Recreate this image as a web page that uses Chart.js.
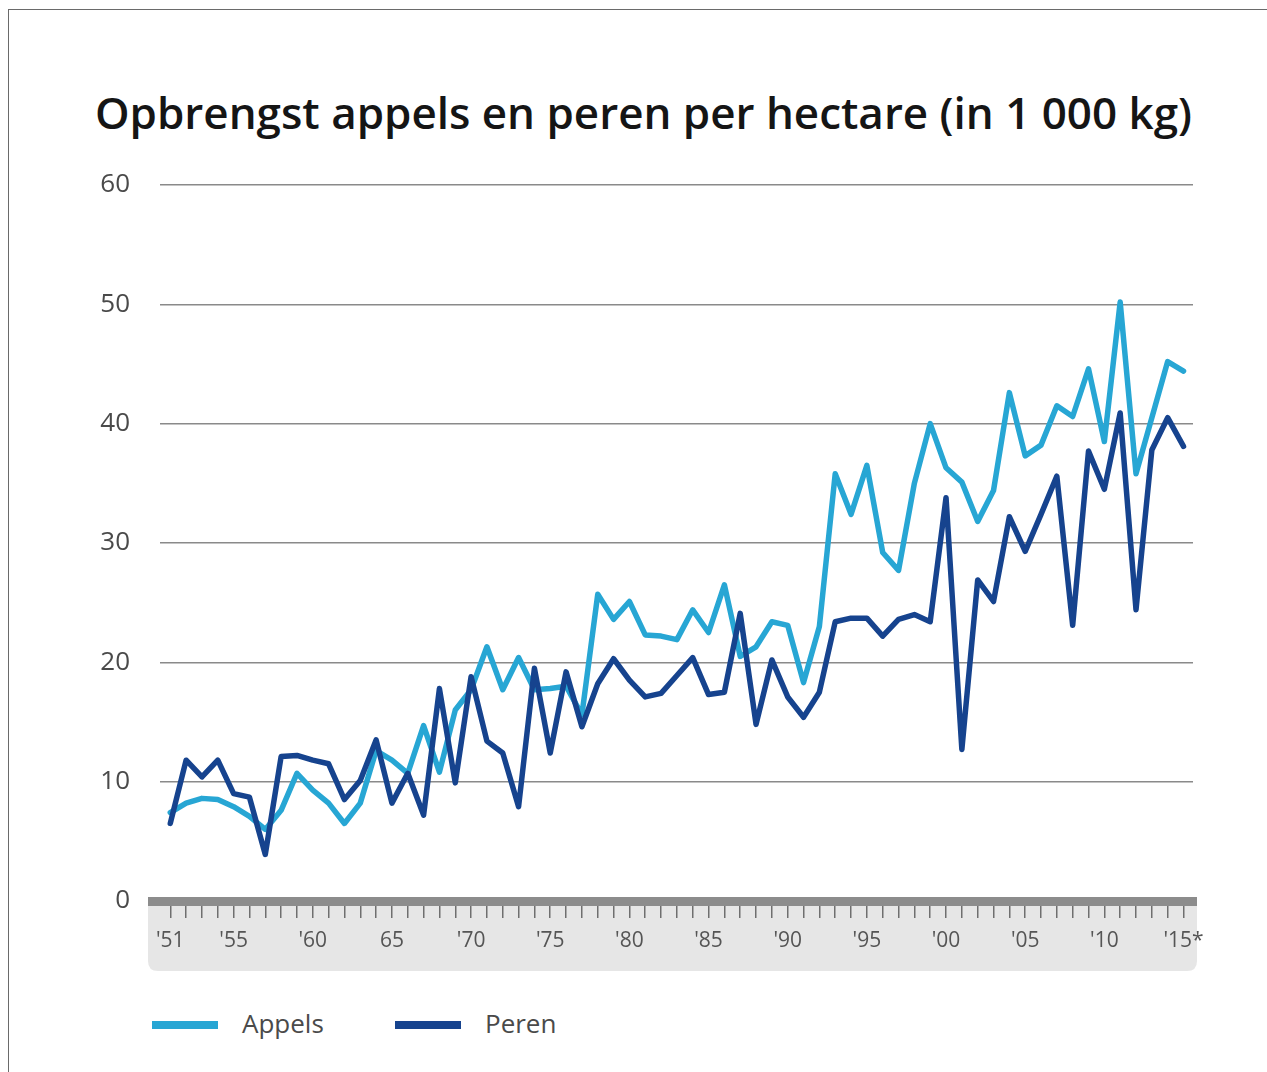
<!DOCTYPE html>
<html>
<head>
<meta charset="utf-8">
<script src="https://cdn.jsdelivr.net/npm/chart.js@4.4.1/dist/chart.umd.min.js"></script>
<style>
    body { margin: 0; background: #fff; }
    #page { position: relative; width: 1267px; height: 1072px; overflow: hidden; background: #fff; }
    #frame { position: absolute; left: 8px; top: 9px; width: 1300px; height: 1100px; border-top: 1px solid #6a6a6a; border-left: 1px solid #6a6a6a; }
    #title { position: absolute; left: 95px; top: 84px; font-family: "Open Sans", sans-serif; font-weight: 600; font-size: 44px; color: #151515; white-space: nowrap; transform-origin: left top; line-height: 56px; }
    #chartBox { position: absolute; left: 0; top: 0; width: 1267px; height: 990px; }
    .legItem { position: absolute; top: 1007px; height: 36px; font-family: "Open Sans", sans-serif; font-size: 26px; color: #4a4a4a; }
    .legItem span.sw { position: absolute; left: 0; top: 14px; width: 66px; height: 8px; }
    .legItem span.tx { position: absolute; top: -2px; white-space: nowrap; }
</style>
</head>
<body>
<div id="page">
    <div id="frame"></div>
    <div id="title">Opbrengst appels en peren per hectare (in 1 000 kg)</div>
    <div id="chartBox"><canvas id="yieldChart"></canvas></div>
    <div id="legend"></div>
</div>
<script>
// jaren 1951 - 2015
const years = [];
for (let y = 1951; y <= 2015; y++) years.push(y);

const appels = [7.4, 8.2, 8.6, 8.5, 7.9, 7.1, 6.0, 7.6, 10.7, 9.3,
    8.2, 6.5, 8.2, 12.6, 11.8, 10.7, 14.7, 10.8, 16.0, 17.7,
    21.3, 17.7, 20.4, 17.7, 17.8, 18.0, 15.6, 25.7, 23.6, 25.1,
    22.3, 22.2, 21.9, 24.4, 22.5, 26.5, 20.5, 21.3, 23.4, 23.1,
    18.3, 23.0, 35.8, 32.4, 36.5, 29.2, 27.7, 35.0, 40.0, 36.3,
    35.1, 31.8, 34.4, 42.6, 37.3, 38.2, 41.5, 40.6, 44.6, 38.5,
    50.2, 35.8, 40.5, 45.2, 44.4];

const peren = [6.5, 11.8, 10.4, 11.8, 9.0, 8.7, 3.9, 12.1, 12.2, 11.8,
    11.5, 8.5, 10.1, 13.5, 8.2, 10.7, 7.2, 17.8, 9.9, 18.8,
    13.4, 12.4, 7.9, 19.5, 12.4, 19.2, 14.6, 18.2, 20.3, 18.5,
    17.1, 17.4, 18.9, 20.4, 17.3, 17.5, 24.1, 14.8, 20.2, 17.1,
    15.4, 17.5, 23.4, 23.7, 23.7, 22.2, 23.6, 24.0, 23.4, 33.8,
    12.7, 26.9, 25.1, 32.2, 29.3, 32.4, 35.6, 23.1, 37.7, 34.5,
    40.9, 24.4, 37.8, 40.5, 38.1];

const labelYears = [1951, 1955, 1960, 1965, 1970, 1975, 1980, 1985, 1990, 1995, 2000, 2005, 2010, 2015];
const labelTexts = ["'51", "'55", "'60", "65", "'70", "'75", "'80", "'85", "'90", "'95", "'00", "'05", "'10", "'15*"];

const colAppels = '#27a6d4';
const colPeren = '#16438e';

// grijze balk + achtergrond onder de x-as
const axisPanel = {
    id: 'axisPanel',
    beforeDraw(chart) {
        const { ctx, chartArea } = chart;
        const l = chartArea.left - 12, r = chartArea.right + 4, t = chartArea.bottom, b = chartArea.bottom + 70, rad = 10;
        ctx.save();
        ctx.fillStyle = '#e6e6e6';
        ctx.beginPath();
        ctx.moveTo(l, t);
        ctx.lineTo(r, t);
        ctx.lineTo(r, b - rad);
        ctx.quadraticCurveTo(r, b, r - rad, b);
        ctx.lineTo(l + rad, b);
        ctx.quadraticCurveTo(l, b, l, b - rad);
        ctx.closePath();
        ctx.fill();
        ctx.restore();
    },
    afterDraw(chart) {
        const { ctx, chartArea } = chart;
        ctx.save();
        ctx.fillStyle = '#8c8c8c';
        ctx.fillRect(chartArea.left - 12, chartArea.bottom - 4, chartArea.right - chartArea.left + 16, 9);
        ctx.restore();
    }
};

const data = {
    datasets: [{
        label: 'Peren',
        data: years.map((y, i) => ({ x: y, y: peren[i] })),
        borderColor: colPeren,
        backgroundColor: colPeren,
        borderWidth: 5.5,
        borderJoinStyle: 'round',
        borderCapStyle: 'round',
        pointRadius: 0,
        tension: 0,
        order: 1
    }, {
        label: 'Appels',
        data: years.map((y, i) => ({ x: y, y: appels[i] })),
        borderColor: colAppels,
        backgroundColor: colAppels,
        borderWidth: 5.5,
        borderJoinStyle: 'round',
        borderCapStyle: 'round',
        pointRadius: 0,
        tension: 0,
        order: 2
    }]
};

const options = {
    responsive: true,
    maintainAspectRatio: false,
    animation: false,
    layout: { padding: { top: 185, right: 74, left: 0, bottom: 0 } },
    plugins: {
        legend: { display: false },
        tooltip: { enabled: false }
    },
    scales: {
        x: {
            type: 'linear',
            min: 1950.35,
            max: 2015.6,
            afterBuildTicks: s => { s.ticks = years.map(y => ({ value: y })); },
            afterFit: s => { s.height = 89; },
            border: { display: false },
            grid: { drawOnChartArea: false, drawTicks: true, tickLength: 17, color: '#6f6f6f', lineWidth: 1.5 },
            ticks: {
                autoSkip: false,
                maxRotation: 0,
                padding: 10,
                color: '#555',
                font: { family: '"Open Sans", sans-serif', size: 21 },
                callback: v => {
                    const i = labelYears.indexOf(v);
                    return i >= 0 ? labelTexts[i] : '';
                }
            }
        },
        y: {
            min: 0,
            max: 60,
            afterFit: s => { s.width = 160; },
            border: { display: false },
            grid: { drawTicks: false, color: '#8a8a8a', lineWidth: 1.5 },
            ticks: {
                stepSize: 10,
                padding: 30,
                color: '#4a4a4a',
                font: { family: '"Open Sans", sans-serif', size: 26 }
            }
        }
    }
};

new Chart('yieldChart', { type: 'line', data, options, plugins: [axisPanel] });

// titel op breedte brengen
const title = document.getElementById('title');
const tw = title.getBoundingClientRect().width;
title.style.transform = 'scaleX(' + (1097 / tw) + ')';

// legenda
const legendItems = [
    { text: 'Appels', color: colAppels, left: 152 },
    { text: 'Peren', color: colPeren, left: 395 }
];
document.getElementById('legend').innerHTML = legendItems.map(it =>
    '<div class="legItem" style="left:' + it.left + 'px"><span class="sw" style="background:' + it.color + '"></span>' +
    '<span class="tx" style="left:90px">' + it.text + '</span></div>').join('');
</script>
</body>
</html>
